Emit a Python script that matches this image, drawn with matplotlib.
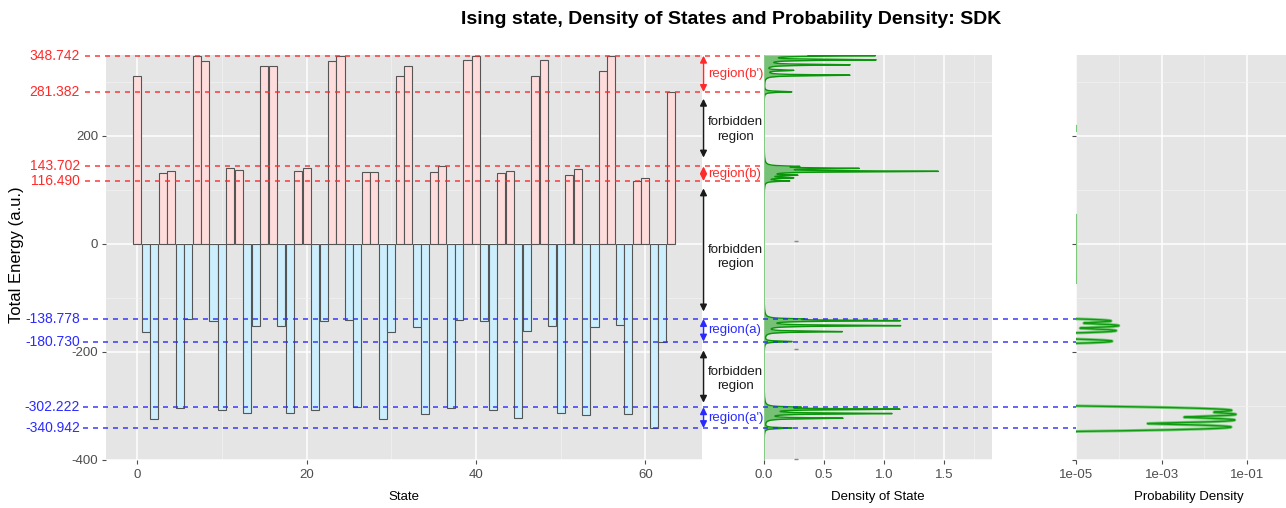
import numpy as np
import matplotlib.pyplot as plt

plt.rcParams['font.family'] = ['Liberation Sans', 'DejaVu Sans']
plt.rcParams['axes.unicode_minus'] = False

# total energy of each of the 64 Ising states
energy = [311.0, -163.0, -324.5, 131.7, 135.4, -303.7, -138.778, 348.742,
          339.0, -143.0, -307.0, 140.4, 136.6, -312.7, -151.0, 330.4,
          330.4, -152.2, -313.0, 135.4, 141.6, -307.0, -142.3, 339.0,
          348.742, -141.6, -302.222, 134.2, 132.9, -324.2, -162.5, 311.0,
          330.4, -153.0, -315.0, 132.9, 143.702, -303.7, -141.6, 340.4,
          348.742, -142.0, -307.0, 131.0, 134.7, -322.3, -161.5, 311.7,
          340.4, -151.0, -312.4, 127.3, 139.7, -317.4, -152.8, 321.0,
          348.742, -149.7, -314.3, 116.49, 123.0, -340.942, -180.73, 281.382]
states = np.arange(len(energy))

# band edges
red_levels = [348.742, 281.382, 143.702, 116.490]
blue_levels = [-138.778, -180.730, -302.222, -340.942]

# density of state peaks (energy, height)
dos_energy = [348.742, 341.0, 331.8, 321.5, 312.5, 281.8,
              143.7, 140.0, 134.5, 127.3, 122.5, 116.8,
              -138.8, -142.0, -151.2, -162.3, -180.7,
              -302.2, -306.0, -314.0, -322.7, -340.9]
dos_height = [0.91, 0.91, 0.70, 0.23, 0.71, 0.23,
              0.23, 0.73, 1.42, 0.24, 0.22, 0.20,
              0.23, 1.10, 1.12, 0.64, 0.23,
              0.23, 1.10, 1.04, 0.64, 0.23]

# probability density peaks (energy, value)
pd_energy = [-142.5, -151.2, -160.5, -180.0, -308.0, -315.5, -326.0, -339.0]
pd_value = [6.6e-5, 1.0e-4, 8.7e-5, 7.0e-5, 0.043, 0.054, 0.051, 0.042]
pd_edge_lo = [-72, 210]
pd_edge_hi = [54, 219]

W, H = 1286, 508
fig = plt.figure(figsize=(W / 100, H / 100), dpi=100)
YTOP, YBOT = 55, 460
YLIM = (-400, 350)


def px_axes(x0, x1):
    return fig.add_axes([x0 / W, 1 - YBOT / H, (x1 - x0) / W, (YBOT - YTOP) / H])


def gg(ax):
    ax.set_facecolor('#E5E5E5')
    for s in ax.spines.values():
        s.set_visible(False)
    ax.grid(True, which='major', color='white', lw=1.1)
    ax.grid(True, which='minor', color='#F2F2F2', lw=0.5)
    ax.set_axisbelow(True)
    ax.tick_params(which='major', length=3, width=0.8, color='#4D4D4D',
                   labelcolor='#4D4D4D', labelsize=9.5, pad=3.5)
    ax.tick_params(which='minor', length=0)
    ax.set_ylim(*YLIM)
    ax.set_yticks([-400, -200, 0, 200])
    ax.set_yticks([-300, -100, 100, 300], minor=True)


# ---- Ising states
ax1 = px_axes(106, 702)
gg(ax1)
colors = ['#FFDCDC' if e > 0 else '#CDEEFC' for e in energy]
ax1.bar(states, energy, width=0.95, color=colors, edgecolor='#555555', lw=0.8)
ax1.set_xlim(-3.7, 66.7)
ax1.set_xticks([0, 20, 40, 60])
ax1.set_xticks([10, 30, 50], minor=True)
ax1.tick_params(axis='y', pad=2.5)

# ---- density of state
ax2 = px_axes(764, 992)
gg(ax2)
grid = np.linspace(-400, 350, 15001)
gamma = 1.0
dos = np.zeros_like(grid)
for e, h in zip(dos_energy, dos_height):
    dos += h * gamma ** 2 / ((grid - e) ** 2 + gamma ** 2)
ax2.fill_betweenx(grid, 0, dos, color='#2EAA2E', alpha=0.6, lw=0)
ax2.plot(dos, grid, color='#0A960A', lw=1.0)
ax2.axvline(0, color='#8ACB8A', lw=1.4)
ax2.plot([0.267] * 3, [5, -195, -398], ls='none', marker='_', ms=3, color='#888888')
ax2.set_xlim(0, 1.9)
ax2.set_xticks([0, 0.5, 1.0, 1.5])
ax2.set_xticklabels(['0.0', '0.5', '1.0', '1.5'])
ax2.set_xticks([0.25, 0.75, 1.25, 1.75], minor=True)
ax2.tick_params(axis='y', which='major', length=0, labelleft=False)

# ---- probability density
ax3 = px_axes(1076, 1286)
gg(ax3)
ax3.set_xscale('log')
sig = 2.0
prob = np.zeros_like(grid)
for e, p in zip(pd_energy, pd_value):
    prob += p * np.exp(-0.5 * ((grid - e) / sig) ** 2)
prob = np.maximum(prob, 1e-12)
ax3.plot(prob, grid, color='#7CCB7C', lw=2.2)
ax3.plot(prob, grid, color='#109A10', lw=1.0)
for lo, hi in zip(pd_edge_lo, pd_edge_hi):
    ax3.plot([1e-5, 1e-5], [lo, hi], color='#7CC87C', lw=1.6)
ax3.set_xlim(1e-5, 0.8)
ax3.set_xticks([1e-5, 1e-3, 1e-1])
ax3.set_xticklabels(['1e-05', '1e-03', '1e-01'])
ax3.set_xticks([1e-4, 1e-2], minor=True)
ax3.set_xticklabels([], minor=True)
ax3.tick_params(axis='y', which='major', labelleft=False)

# ---- overlay: band edge lines, labels and arrows
ov = fig.add_axes([0, 1 - YBOT / H, 1, (YBOT - YTOP) / H], zorder=10)
ov.set_xlim(0, W)
ov.set_ylim(*YLIM)
ov.axis('off')
ov.patch.set_alpha(0)

red, blue = '#FF2A2A', '#2A2AFF'
for y in red_levels:
    ov.hlines(y, 85, 764, colors=red, linestyles=(0, (3, 3)), lw=1.2, alpha=0.85)
    ov.text(80, y, '%.3f' % y, ha='right', va='center', color=red, fontsize=10)
for y in blue_levels:
    ov.hlines(y, 83, 1076, colors=blue, linestyles=(0, (3, 3)), lw=1.2, alpha=0.85)
    ov.text(80, y, '%.3f' % y, ha='right', va='center', color=blue, fontsize=10)


def darrow(y0, y1, color):
    ov.annotate('', xy=(703.5, y0), xytext=(703.5, y1),
                arrowprops=dict(arrowstyle='<|-|>', color=color, lw=1.1,
                                mutation_scale=10, shrinkA=0, shrinkB=0))


regions = [(348.742, 281.382, "region(b')", red),
           (143.702, 116.490, 'region(b)', red),
           (-138.778, -180.730, 'region(a)', blue),
           (-302.222, -340.942, "region(a')", blue)]
for y0, y1, label, c in regions:
    darrow(y0, y1, c)
    ov.text(708, (y0 + y1) / 2, label, ha='left', va='center', color=c, fontsize=9.5)

forbidden = [(269, 160, 212), (103, -125, -24), (-197, -294, -250)]
for y0, y1, yt in forbidden:
    darrow(y0, y1, '#1A1A1A')
    ov.text(735, yt, 'forbidden\nregion', ha='center', va='center', color='#1A1A1A',
            fontsize=9.5, linespacing=1.25)

# ---- titles
fig.text(731 / W, 1 - 20 / H, 'Ising state, Density of States and Probability Density: SDK',
         ha='center', va='center', fontsize=14, fontweight='bold')
fig.text(17 / W, 1 - 255 / H, 'Total Energy (a.u.)', rotation=90, ha='center', va='center',
         fontsize=12)
fig.text(404 / W, 1 - 497 / H, 'State', ha='center', va='center', fontsize=9.5)
fig.text(878 / W, 1 - 497 / H, 'Density of State', ha='center', va='center', fontsize=9.5)
fig.text(1189 / W, 1 - 497 / H, 'Probability Density', ha='center', va='center', fontsize=9.5)

fig.savefig('out.png', dpi=100)
